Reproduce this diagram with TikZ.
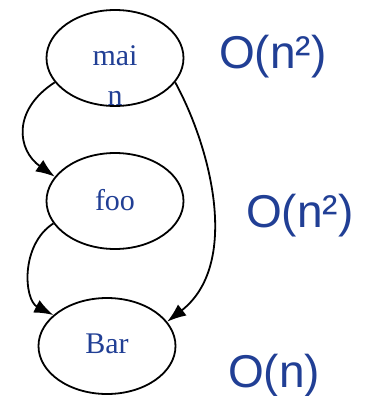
\documentclass[tikz,border=0pt]{standalone}
\usepackage{fontspec}
\setmainfont{Liberation Serif}
\newfontfamily\arialfont{Liberation Sans}
\usetikzlibrary{shapes.geometric,arrows.meta}
\definecolor{txtblue}{HTML}{213F95}
\begin{document}
\begin{tikzpicture}[x=1pt,y=-1pt,
  fn/.style={draw=black,line width=1.8pt,ellipse,minimum width=137pt,minimum height=96pt,inner sep=0pt},
  fnlabel/.style={text=txtblue,font=\fontsize{30}{34}\selectfont,inner sep=0pt,anchor=base},
  cost/.style={text=txtblue,font=\arialfont\fontsize{46}{50}\selectfont,inner sep=0pt,anchor=base west},
  call/.style={line width=1.8pt,-{Latex[length=19pt,width=14pt]}}]
\useasboundingbox (0,0) rectangle (366,396);
\node[fn] (main) at (115,58) {};
\node[fn] (foo) at (115,201) {};
\node[fn] (bar) at (107,346) {};
\node[fnlabel] (mainA) at (115,66) {mai};
\node[fnlabel] (mainB) at (115,105) {n};
\node[fnlabel] (fooL) at (115,210) {foo};
\node[fnlabel] (barL) at (107,353) {Bar};
\node[cost] (c1) at (219,69) {O(n²)};
\node[cost] (c2) at (246,227) {O(n²)};
\node[cost] (c3) at (228,387) {O(n)};
\draw[call] (main.202) .. controls (12,110) and (17,150) .. (foo.158);
\draw[call] (main.338) .. controls (212,150) and (240,265) .. (bar.22);
\draw[call] (foo.200) .. controls (20,245) and (24,300) .. (bar.150);
\end{tikzpicture}
\end{document}
